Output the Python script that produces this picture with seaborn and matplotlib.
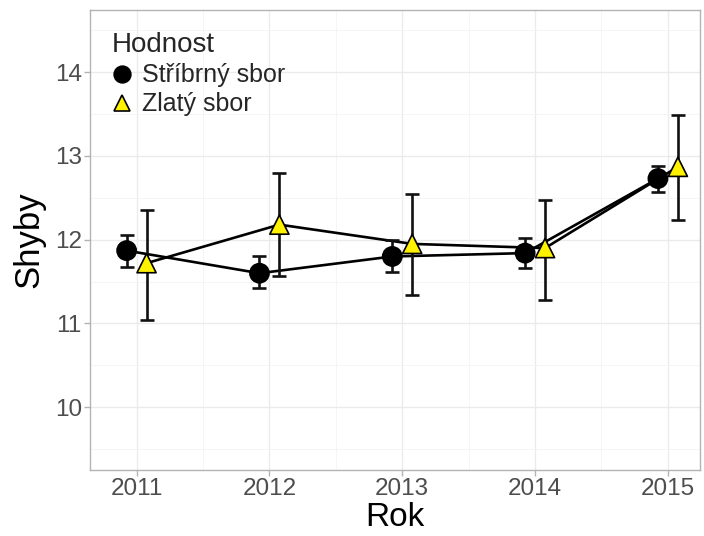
import matplotlib
matplotlib.use("Agg")
import matplotlib.pyplot as plt
from matplotlib.ticker import MultipleLocator
import seaborn as sns
import pandas as pd
import numpy as np

years = [2011, 2012, 2013, 2014, 2015]
groups = ["Stříbrný sbor", "Zlatý sbor"]
silver_mean = [11.87, 11.60, 11.80, 11.84, 12.73]
silver_lo = [11.68, 11.42, 11.62, 11.66, 12.57]
silver_hi = [12.06, 11.80, 12.00, 12.02, 12.88]
gold_mean = [11.72, 12.18, 11.95, 11.90, 12.87]
gold_lo = [11.04, 11.57, 11.34, 11.28, 12.23]
gold_hi = [12.35, 12.80, 12.54, 12.48, 13.49]

sns.set_theme(style="whitegrid")
plt.rcParams['font.family'] = ['Liberation Sans', 'DejaVu Sans']

fig = plt.figure(figsize=(7.04, 5.36), dpi=100)
ax = fig.add_axes([0.128, 0.123, 0.866, 0.858])

offsets = {groups[0]: -0.075, groups[1]: 0.075}
rows = []
for g, m, lo, hi in [(groups[0], silver_mean, silver_lo, silver_hi),
                     (groups[1], gold_mean, gold_lo, gold_hi)]:
    for y, mv, l, h in zip(years, m, lo, hi):
        rows.append(dict(Rok=y, x=y + offsets[g], Shyby=mv, lo=l, hi=h, Hodnost=g))
df = pd.DataFrame(rows)

# lines
sns.lineplot(data=df, x="x", y="Shyby", units="Hodnost", estimator=None,
             color="black", lw=1.9, ax=ax, legend=False, zorder=2)
# error bars
for g in groups:
    d = df[df.Hodnost == g]
    ax.errorbar(d.x, d.Shyby, yerr=[d.Shyby - d.lo, d.hi - d.Shyby], fmt="none",
                ecolor="#111111", elinewidth=1.9, capsize=5, capthick=1.9, zorder=3)
# markers
sns.scatterplot(data=df, x="x", y="Shyby", hue="Hodnost", style="Hodnost",
                markers={groups[0]: "o", groups[1]: "^"},
                palette={groups[0]: "black", groups[1]: "#FFF200"},
                s=190, edgecolor="black", linewidth=1.2, ax=ax, zorder=4)

ax.set_xlim(2010.65, 2015.24)
ax.set_ylim(9.25, 14.74)
ax.set_xticks(years)
ax.set_xticklabels([str(y) for y in years])
ax.yaxis.set_major_locator(MultipleLocator(1))
ax.yaxis.set_minor_locator(MultipleLocator(0.5))
ax.xaxis.set_minor_locator(MultipleLocator(0.5))
ax.grid(which="major", color="#EBEBEB", lw=1.0)
ax.grid(which="minor", color="#F4F4F4", lw=0.6)
ax.set_axisbelow(True)
for s in ax.spines.values():
    s.set_color("#B3B3B3")
    s.set_linewidth(1.0)
ax.tick_params(axis="both", which="major", labelsize=17.5, labelcolor="#4D4D4D",
               length=4, color="#B3B3B3", width=1, pad=2, left=True, bottom=True)
ax.tick_params(which="minor", length=0)
ax.set_xlabel("Rok", fontsize=24, labelpad=1, color="black")
ax.set_ylabel("Shyby", fontsize=25, labelpad=7, color="black")

leg = ax.legend(title="Hodnost", loc="upper left", bbox_to_anchor=(0.036, 0.952),
                frameon=False, fontsize=18, title_fontsize=20,
                handletextpad=0.4, handlelength=0.8, borderaxespad=0.0,
                labelspacing=0.2, borderpad=0.0)
leg._legend_box.align = "left"
for h in leg.legend_handles:
    h.set_markersize(12)

fig.savefig("out.png", dpi=100)
